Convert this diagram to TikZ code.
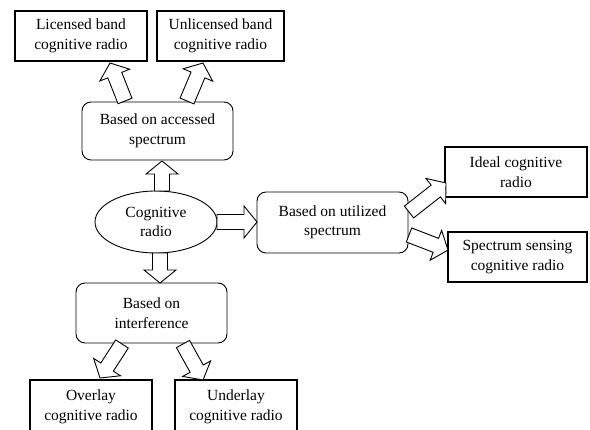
\documentclass[tikz,border=0pt]{standalone}
\usepackage{fontspec}
\setmainfont{Liberation Serif}
\usetikzlibrary{shapes.geometric,calc}
\tikzset{
  sqbox/.style={draw, line width=1.4pt, align=center, minimum width=#1, minimum height=50pt, inner sep=0pt},
  rbox/.style={draw, line width=0.9pt, rounded corners=9pt, align=center, minimum width=151pt, minimum height=#1, inner sep=0pt},
  oval/.style={draw, line width=0.9pt, ellipse, align=center, minimum width=122pt, minimum height=62pt, inner sep=0pt},
  barrow/.style={draw, line width=0.9pt, line join=miter, fill=white}
}
\newcommand{\blockarr}[2]{%
  \path[barrow] ($(#1)!7.5pt!90:(#2)$) -- ($(#2)!13pt!(#1)!7.5pt!-90:(#1)$) -- ($(#2)!13pt!(#1)!16pt!-90:(#1)$) -- (#2) -- ($(#2)!13pt!(#1)!16pt!90:(#1)$) -- ($(#2)!13pt!(#1)!7.5pt!90:(#1)$) -- ($(#1)!7.5pt!-90:(#2)$) -- cycle;}
\begin{document}
\begin{tikzpicture}[x=1pt, y=-1pt, font=\fontsize{15.5}{19.5}\selectfont]
\useasboundingbox (0,0) rectangle (590,430);
\node[sqbox=132pt] (lic) at (81,36) {Licensed band\\cognitive radio};
\node[sqbox=127pt] (unl) at (220.5,36) {Unlicensed band\\cognitive radio};
\node[rbox=58pt] (acc) at (157.5,131) {Based on accessed\\spectrum};
\node[oval] (cr) at (156,222) {Cognitive\\radio};
\node[rbox=61pt] (util) at (332.5,222.5) {Based on utilized\\spectrum};
\node[rbox=60pt] (intf) at (151.5,313) {Based on\\interference};
\node[sqbox=142pt] (ideal) at (516,172) {Ideal cognitive\\radio};
\node[sqbox=139pt] (sens) at (517.5,257) {Spectrum sensing\\cognitive radio};
\node[sqbox=122pt, minimum height=54pt] (over) at (91,407) {Overlay\\cognitive radio};
\node[sqbox=122pt, minimum height=54pt] (under) at (236,407) {Underlay\\cognitive radio};
% arrow end points
\coordinate (a1) at (125,101); \coordinate (b1) at (110,63);
\coordinate (a2) at (187,101); \coordinate (b2) at (203,63);
\coordinate (a3) at (162,191); \coordinate (b3) at (162,161);
\coordinate (a4) at (160,253); \coordinate (b4) at (160,283);
\coordinate (a5) at (217,222); \coordinate (b5) at (257,222);
\coordinate (a6) at (409,212); \coordinate (b6) at (446,183);
\coordinate (a7) at (409,235); \coordinate (b7) at (448,250);
\coordinate (a8) at (122,344); \coordinate (b8) at (100,378);
\coordinate (a9) at (183,344); \coordinate (b9) at (203,380);
\blockarr{a1}{b1}
\blockarr{a2}{b2}
\blockarr{a3}{b3}
\blockarr{a4}{b4}
\blockarr{a5}{b5}
\blockarr{a6}{b6}
\blockarr{a7}{b7}
\blockarr{a8}{b8}
\blockarr{a9}{b9}
\end{tikzpicture}
\end{document}
